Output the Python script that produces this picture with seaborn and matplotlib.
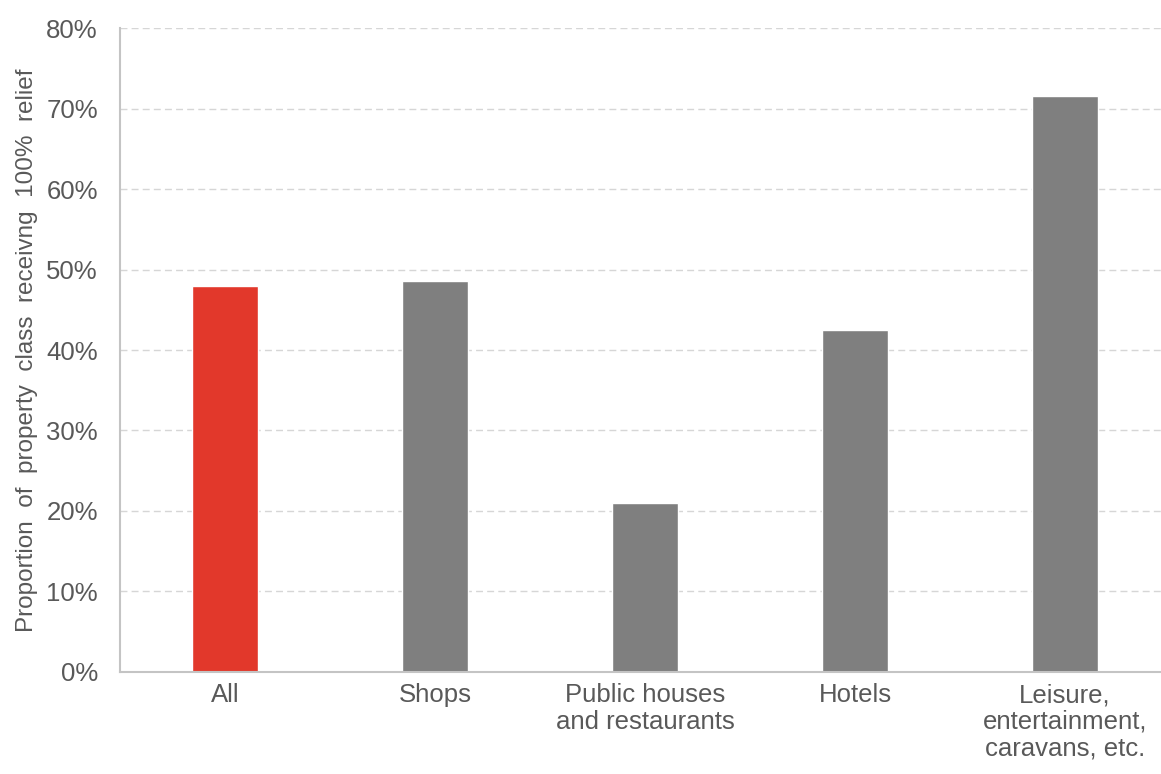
import seaborn as sns
import pandas as pd
import matplotlib.pyplot as plt
from matplotlib.ticker import PercentFormatter

# Share of each property class getting 100% relief
categories = ["All", "Shops", "Public houses\nand restaurants", "Hotels",
              "Leisure,\nentertainment,\ncaravans, etc."]
relief_pct = [48.0, 48.6, 21.0, 42.5, 71.5]
bar_colors = ["#E2382B", "#7F7F7F", "#7F7F7F", "#7F7F7F", "#7F7F7F"]

if __name__ == '__main__':
    sns.set_theme(style="white")
    plt.rcParams['font.family'] = ['Liberation Sans', 'DejaVu Sans']

    df = pd.DataFrame({"category": categories, "pct": relief_pct})

    fig = plt.figure(figsize=(11.61, 7.74), dpi=100)
    ax = fig.add_axes([0.1034, 0.1318, 0.8966, 0.832])
    sns.barplot(data=df, x="category", y="pct", hue="category",
                palette=bar_colors, width=0.31, legend=False, ax=ax,
                saturation=1)

    ax.set_ylim(0, 80)
    ax.set_xlim(-0.5, 4.457)
    ax.set_yticks(range(0, 81, 10))
    ax.yaxis.set_major_formatter(PercentFormatter(decimals=0))
    ax.yaxis.grid(True, linestyle=(0, (5, 3)), color="#D6D6D6", linewidth=1)
    ax.set_axisbelow(True)

    for side in ["top", "right"]:
        ax.spines[side].set_visible(False)
    for side in ["left", "bottom"]:
        ax.spines[side].set_color("#C4C4C4")
        ax.spines[side].set_linewidth(1.5)

    ax.tick_params(axis="both", labelsize=18.5, labelcolor="#595959", length=0)
    ax.tick_params(axis="y", pad=16)
    ax.tick_params(axis="x", pad=8)
    for lbl in ax.get_xticklabels():
        lbl.set_linespacing(1.15)
    ax.set_xlabel("")
    ax.set_ylabel("Proportion  of  property  class  receivng  100%  relief",
                  fontsize=17.5, color="#595959", labelpad=6)

    fig.savefig("out.png", dpi=100)
